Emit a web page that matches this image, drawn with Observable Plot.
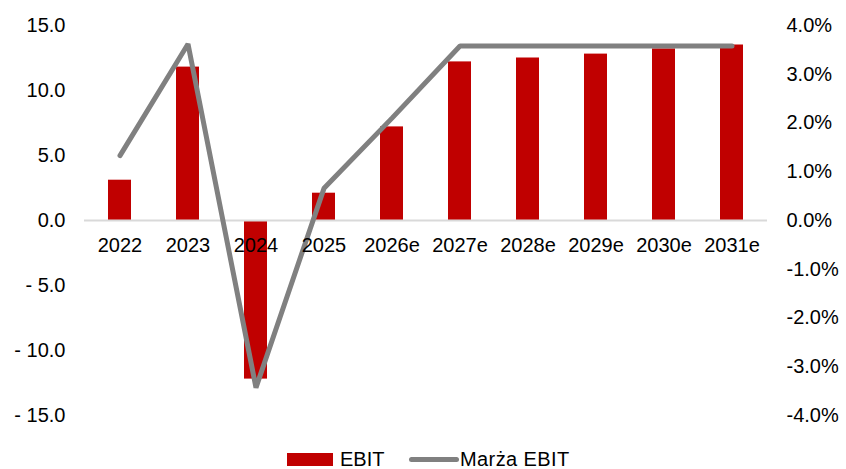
<!DOCTYPE html>
<html>
<head>
<meta charset="utf-8">
<script src="https://cdn.jsdelivr.net/npm/d3@7"></script>
<script src="https://cdn.jsdelivr.net/npm/@observablehq/plot@0.6"></script>
<style>
  body { margin: 0; background: #fff; font-family: "Liberation Sans", Arial, sans-serif; }
  #wrap { position: relative; width: 846px; height: 469px; overflow: hidden; }
  #legend { position: absolute; left: 0; top: 449px; width: 846px; height: 20px; font-size: 20px; color: #000; }
  .sw { position: absolute; }
  .lt { position: absolute; line-height: 20px; }
</style>
</head>
<body>
<div id="wrap">
  <div id="chart"></div>
  <div id="legend">
    <div class="sw" style="left:287px;top:4px;width:46px;height:13px;background:#c00000"></div>
    <div class="lt" style="left:340px;top:0px">EBIT</div>
    <div class="sw" style="left:409px;top:8px;width:50px;height:5px;background:#808080;border-radius:3px"></div>
    <div class="lt" style="left:460px;top:0px;letter-spacing:0.4px">Marża EBIT</div>
  </div>
</div>
<script>
const years = ["2022","2023","2024","2025","2026e","2027e","2028e","2029e","2030e","2031e"];
const ebit = [3.1, 11.8, -12.2, 2.1, 7.2, 12.2, 12.5, 12.8, 13.2, 13.5];
const margin = [1.33, 3.62, -3.43, 0.66, 2.1, 3.58, 3.58, 3.58, 3.58, 3.58];
const leftTicks = [-15, -10, -5, 0, 5, 10, 15];
const rightTicks = [-4, -3, -2, -1, 0, 1, 2, 3, 4];

const leftMax = 15, rightMax = 4;
const k = leftMax / rightMax;

const data = years.map((y, i) => ({year: y, ebit: ebit[i], margin: margin[i]}));

const fmtLeft = d => d < 0 ? "- " + Math.abs(d).toFixed(1) : d.toFixed(1);
const fmtRight = d => (d / k).toFixed(1) + "%";

const chart = Plot.plot({
  width: 846,
  height: 440,
  marginLeft: 84,
  marginRight: 79,
  marginTop: 25,
  marginBottom: 25,
  style: {fontFamily: "'Liberation Sans', Arial, sans-serif", fontSize: "20px", color: "#000", background: "#fff"},
  x: {domain: years, paddingInner: 0.66, paddingOuter: 0.33, axis: null},
  y: {domain: [-leftMax, leftMax], axis: null},
  marks: [
    Plot.barY(data, {x: "year", y: "ebit", fill: "#c00000"}),
    Plot.ruleY([0], {stroke: "#d9d9d9", strokeWidth: 2}),
    Plot.line(data, {x: "year", y: d => d.margin * k, stroke: "#808080", strokeWidth: 5, strokeLinejoin: "miter", strokeLinecap: "round"}),
    Plot.text(years, {x: d => d, y: 0, dy: 25, text: d => d, fontSize: 20, fill: "#000"}),
    Plot.axisY(leftTicks, {anchor: "left", label: null, tickSize: 0, tickPadding: 19, tickFormat: fmtLeft, fontSize: 20}),
    Plot.axisY(rightTicks.map(d => d * k), {anchor: "right", label: null, tickSize: 0, tickPadding: 19, tickFormat: fmtRight, fontSize: 20})
  ]
});
document.getElementById("chart").appendChild(chart);
</script>
</body>
</html>
